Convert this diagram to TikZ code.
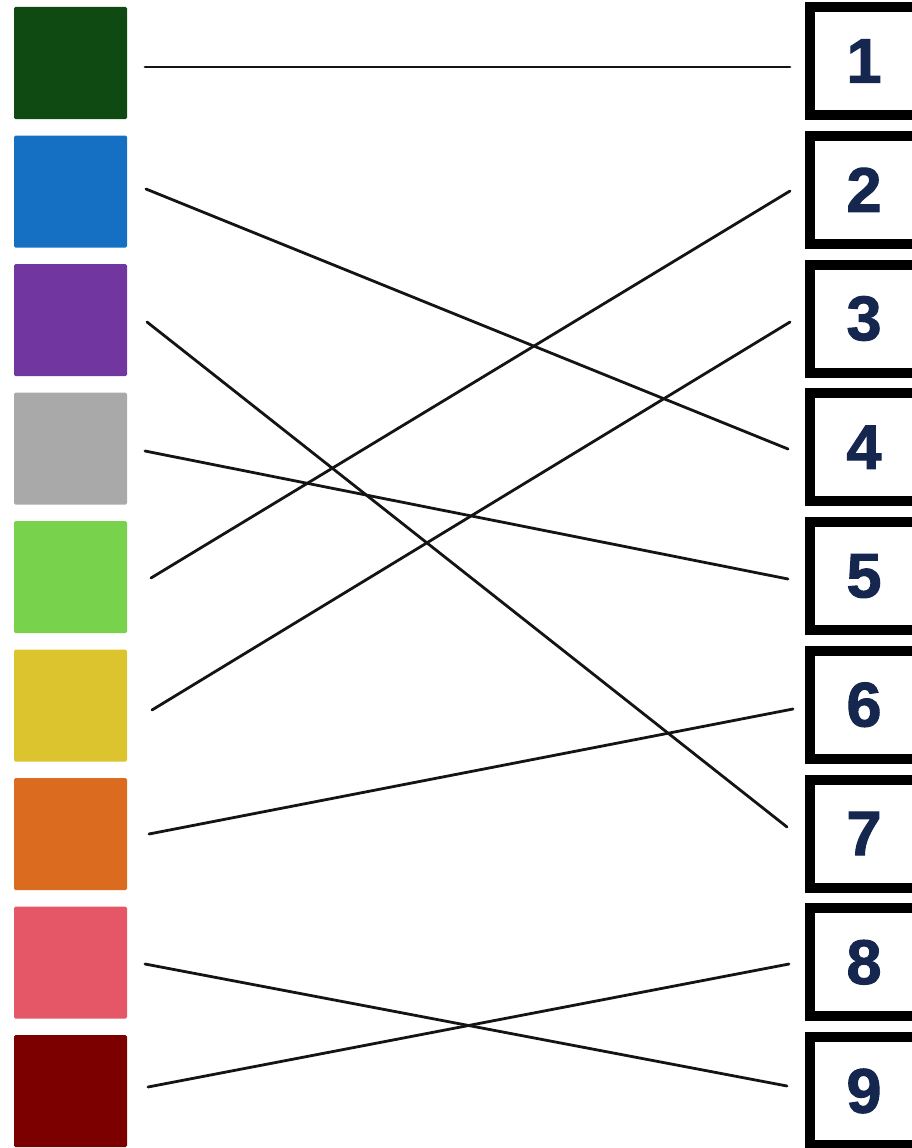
\documentclass[tikz,border=0pt]{standalone}
\usepackage{fontspec}
\setmainfont{Liberation Sans}
\newfontfamily\numfont{Liberation Sans}[BoldFeatures={FakeBold=1.6}]
\definecolor{c1}{HTML}{0E4A12}
\definecolor{c2}{HTML}{1570C4}
\definecolor{c3}{HTML}{7136A0}
\definecolor{c4}{HTML}{A9A9A9}
\definecolor{c5}{HTML}{78D24C}
\definecolor{c6}{HTML}{DCC42F}
\definecolor{c7}{HTML}{DA6B1F}
\definecolor{c8}{HTML}{E55666}
\definecolor{c9}{HTML}{7C0000}
\definecolor{navy}{HTML}{15264F}
\tikzset{
  swatch/.style={rectangle, inner sep=0pt, minimum width=113pt, minimum height=112pt, rounded corners=1.5pt},
  numbox/.style={rectangle, draw=black, line width=10pt, inner sep=0pt, minimum width=108pt, minimum height=108pt, fill=white,
     font=\numfont\fontsize{63}{63}\selectfont\bfseries, text=navy},
  link/.style={line width=2.8pt, line cap=round, black!92}
}
\begin{document}
\begin{tikzpicture}[x=1pt,y=-1pt]
\useasboundingbox (0,0) rectangle (912,1148);
\clip (0,0) rectangle (912,1148);
% left swatches
\foreach \i in {1,...,9}{
  \node[swatch, fill=c\i] (s\i) at (70.5,{63+128.5*(\i-1)}) {};
}
% right boxes
\foreach \i in {1,...,9}{
  \node[numbox] (b\i) at (864,{61+128.75*(\i-1)}) {\i};
}
% endpoints
\coordinate (l1) at (145,67);   \coordinate (r1) at (790,67);
\coordinate (l2) at (146,189);  \coordinate (r2) at (790,191);
\coordinate (l3) at (147,322);  \coordinate (r3) at (790,322);
\coordinate (l4) at (145,451);  \coordinate (r4) at (788,449);
\coordinate (l5) at (151,578);  \coordinate (r5) at (788,579);
\coordinate (l6) at (152,710);  \coordinate (r6) at (793,709);
\coordinate (l7) at (149,834);  \coordinate (r7) at (787,827);
\coordinate (l8) at (145,964);  \coordinate (r8) at (789,964);
\coordinate (l9) at (148,1087); \coordinate (r9) at (787,1086);
% connectors
\draw[link] (l1) -- (r1);
\draw[link] (l2) -- (r4);
\draw[link] (l3) -- (r7);
\draw[link] (l4) -- (r5);
\draw[link] (l5) -- (r2);
\draw[link] (l6) -- (r3);
\draw[link] (l7) -- (r6);
\draw[link] (l8) -- (r9);
\draw[link] (l9) -- (r8);
\end{tikzpicture}
\end{document}
